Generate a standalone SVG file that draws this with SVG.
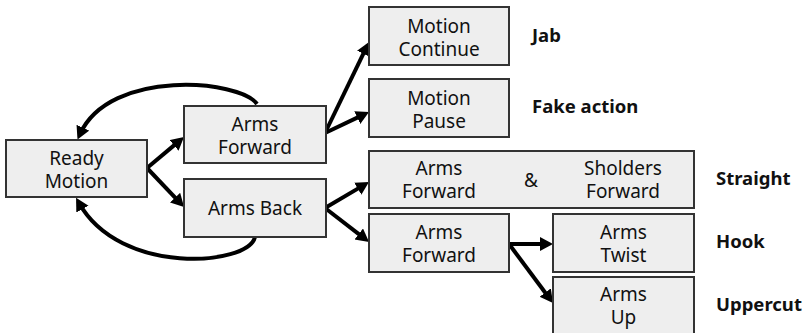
<svg xmlns="http://www.w3.org/2000/svg" width="807" height="333" viewBox="0 0 807 333">
  <style>
    .box { fill: #eeeeee; stroke: #333333; stroke-width: 2; }
    .t { font-family: "Noto Sans", "Open Sans", sans-serif; font-size: 19px; fill: #111111; text-anchor: middle; }
    .lbl { font-family: "Noto Sans", "Open Sans", sans-serif; font-size: 18.5px; font-weight: bold; fill: #111111; }
    .edge { fill: none; stroke: #000000; stroke-width: 4; marker-end: url(#arrow); }
  </style>
  <defs>
    <marker id="arrow" markerUnits="userSpaceOnUse" markerWidth="16" markerHeight="16" refX="7" refY="7" orient="auto">
      <path d="M0,0 L13,7 L0,14 Z" fill="#000000"/>
    </marker>
  </defs>

  <rect width="807" height="333" fill="#ffffff"/>

  <g id="connectors">
    <path class="edge" d="M257,104 C240,80 110,68 80,134"/>
    <path class="edge" d="M255,237 C248,266 120,276 79,203"/>
    <path class="edge" d="M147,168 L179.4,140.9"/>
    <path class="edge" d="M147,168 L179.9,202.7"/>
    <path class="edge" d="M325,133 L366.4,47.4"/>
    <path class="edge" d="M325,133 L363.6,114.6"/>
    <path class="edge" d="M325,208 L363.8,185.1"/>
    <path class="edge" d="M325,208 L364.3,238.3"/>
    <path class="edge" d="M509,244 L547,244"/>
    <path class="edge" d="M509,244 L549.4,298.2"/>
  </g>

  <g id="ready-motion">
    <rect class="box" x="6" y="140" width="141" height="57"/>
    <text class="t" x="76.5" y="165">Ready</text>
    <text class="t" x="76.5" y="188">Motion</text>
  </g>

  <g id="arms-forward-1">
    <rect class="box" x="184" y="106" width="142" height="57"/>
    <text class="t" x="255" y="131">Arms</text>
    <text class="t" x="255" y="154">Forward</text>
  </g>

  <g id="arms-back">
    <rect class="box" x="184" y="179" width="142" height="58"/>
    <text class="t" x="255" y="215">Arms Back</text>
  </g>

  <g id="motion-continue">
    <rect class="box" x="369" y="7" width="140" height="58"/>
    <text class="t" x="439" y="33">Motion</text>
    <text class="t" x="439" y="56">Continue</text>
  </g>

  <g id="motion-pause">
    <rect class="box" x="369" y="79" width="140" height="58"/>
    <text class="t" x="439" y="105">Motion</text>
    <text class="t" x="439" y="128">Pause</text>
  </g>

  <g id="arms-shoulders-forward">
    <rect class="box" x="369" y="151" width="325" height="57"/>
    <text class="t" x="439" y="175">Arms</text>
    <text class="t" x="439" y="198">Forward</text>
    <text class="t" x="531" y="187">&amp;</text>
    <text class="t" x="623" y="175">Sholders</text>
    <text class="t" x="623" y="198">Forward</text>
  </g>

  <g id="arms-forward-2">
    <rect class="box" x="369" y="214" width="140" height="58"/>
    <text class="t" x="439" y="239">Arms</text>
    <text class="t" x="439" y="262">Forward</text>
  </g>

  <g id="arms-twist">
    <rect class="box" x="553" y="214" width="141" height="58"/>
    <text class="t" x="623.5" y="239">Arms</text>
    <text class="t" x="623.5" y="262">Twist</text>
  </g>

  <g id="arms-up">
    <rect class="box" x="553" y="277" width="141" height="64"/>
    <text class="t" x="623.5" y="301">Arms</text>
    <text class="t" x="623.5" y="324">Up</text>
  </g>

  <g id="labels">
    <text class="lbl" x="532" y="42">Jab</text>
    <text class="lbl" x="532" y="113">Fake action</text>
    <text class="lbl" x="716" y="185">Straight</text>
    <text class="lbl" x="716" y="248">Hook</text>
    <text class="lbl" x="716" y="311">Uppercut</text>
  </g>
</svg>
